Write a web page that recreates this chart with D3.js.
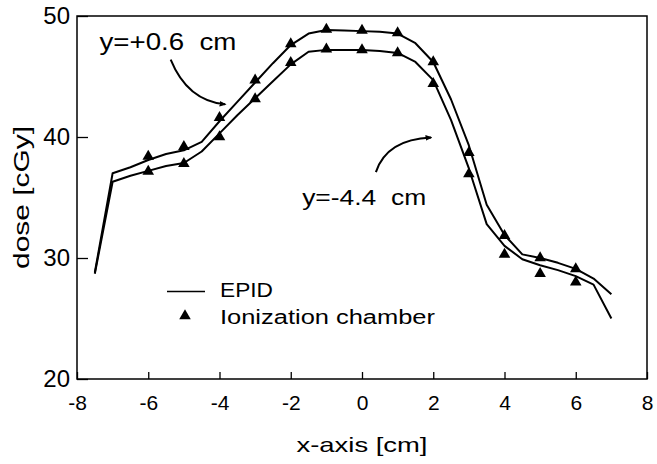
<!DOCTYPE html>
<html>
<head>
<meta charset="utf-8">
<script src="https://cdn.jsdelivr.net/npm/d3@7"></script>
<style>
  body { margin: 0; background: #fff; }
  svg { display: block; font-family: "Liberation Sans", Arial, sans-serif; }
</style>
</head>
<body>
<svg id="chart" width="657" height="464"></svg>
<script>
// EPID profiles, sampled every 0.5 cm
const epidX = [-7.5, -7, -6.5, -6, -5.5, -5, -4.5, -4, -3.5, -3, -2.5, -2, -1.5, -1, -0.5,
  0, 0.5, 1, 1.5, 2, 2.5, 3, 3.5, 4, 4.5, 5, 5.5, 6, 6.5, 7];
const epidUpper = [28.8, 37.0, 37.5, 38.1, 38.6, 38.9, 39.6, 41.3, 42.9, 44.5, 46.1, 47.6, 48.55, 48.85, 48.8,
  48.75, 48.7, 48.55, 47.75, 46.2, 43.1, 39.3, 34.4, 31.9, 30.3, 30.0, 29.6, 29.1, 28.3, 27.0];
const epidLower = [28.7, 36.3, 36.8, 37.2, 37.6, 37.85, 38.8, 40.3, 41.8, 43.2, 44.6, 46.0, 47.05, 47.2, 47.2,
  47.2, 47.1, 46.95, 46.2, 44.7, 41.4, 37.4, 32.8, 31.0, 29.9, 29.4, 29.0, 28.5, 27.8, 25.0];

// ionization chamber measurements
const chamberX = [-6, -5, -4, -3, -2, -1, 0, 1, 2, 3, 4, 5, 6];
const chamberUpper = [38.4, 39.2, 41.6, 44.7, 47.7, 48.9, 48.8, 48.6, 46.2, 38.7, 31.85, 30.0, 29.1];
const chamberLower = [37.15, 37.8, 40.0, 43.15, 46.15, 47.25, 47.2, 46.95, 44.4, 36.95, 30.3, 28.7, 28.0];

const xTicks = [-8, -6, -4, -2, 0, 2, 4, 6, 8];
const yTicks = [20, 30, 40, 50];

const svg = d3.select("#chart");
const plotLeft = 77, plotRight = 647, plotTop = 16, plotBottom = 379;

const x = d3.scaleLinear().domain([-8, 8]).range([plotLeft, plotRight]);
const y = d3.scaleLinear().domain([20, 50]).range([plotBottom, plotTop]);

// arrow marker
svg.append("defs").append("marker")
  .attr("id", "arrow")
  .attr("viewBox", "0 0 10 10")
  .attr("refX", 8).attr("refY", 5)
  .attr("markerWidth", 7).attr("markerHeight", 7)
  .attr("markerUnits", "userSpaceOnUse")
  .attr("orient", "auto")
  .append("path")
  .attr("d", "M0,1 L10,5 L0,9 Z")
  .attr("fill", "#000");

// axes (plain hyphen for negatives, as in the original)
const fmt = function (d) { return String(d); };

const xAxis = svg.append("g")
  .attr("transform", `translate(0,${plotBottom})`)
  .call(d3.axisBottom(x).tickValues(xTicks).tickSize(-7).tickPadding(16).tickFormat(fmt));

const yAxis = svg.append("g")
  .attr("transform", `translate(${plotLeft},0)`)
  .call(d3.axisLeft(y).tickValues(yTicks).tickSize(-11).tickPadding(7).tickFormat(fmt));

[xAxis, yAxis].forEach(function (g) {
  g.select(".domain").remove();
  g.selectAll("line").attr("stroke", "#000").attr("stroke-width", 1.3);
  g.selectAll("text")
    .attr("fill", "#000")
    .style("font-family", "'Liberation Sans', Arial, sans-serif");
});
xAxis.selectAll("text").style("font-size", "21px");
yAxis.selectAll("text").style("font-size", "24px");

// frame
svg.append("rect")
  .attr("x", plotLeft).attr("y", plotTop)
  .attr("width", plotRight - plotLeft).attr("height", plotBottom - plotTop)
  .attr("fill", "none").attr("stroke", "#000").attr("stroke-width", 1.5);

// EPID lines
const line = d3.line()
  .x(function (d) { return x(d[0]); })
  .y(function (d) { return y(d[1]); });

[epidUpper, epidLower].forEach(function (vals) {
  svg.append("path")
    .datum(epidX.map(function (v, i) { return [v, vals[i]]; }))
    .attr("d", line)
    .attr("fill", "none")
    .attr("stroke", "#000")
    .attr("stroke-width", 2)
    .attr("stroke-linejoin", "round");
});

// chamber triangles
const tri = d3.symbol().type(d3.symbolTriangle).size(58);
[chamberUpper, chamberLower].forEach(function (vals) {
  svg.append("g")
    .selectAll("path")
    .data(chamberX.map(function (v, i) { return [v, vals[i]]; }))
    .enter()
    .append("path")
    .attr("d", tri)
    .attr("transform", function (d) { return `translate(${x(d[0])},${y(d[1])})`; })
    .attr("fill", "#000");
});

// annotations
function label(txt, px, py, size, len) {
  svg.append("text")
    .attr("x", px).attr("y", py)
    .attr("font-size", size)
    .attr("textLength", len)
    .attr("lengthAdjust", "spacingAndGlyphs")
    .style("white-space", "pre")
    .attr("fill", "#000")
    .text(txt);
}

label("y=+0.6  cm", x(-7.37), y(47.2), 23, 137);
label("y=-4.4  cm", x(-1.68), y(34.35), 22, 124);

svg.append("path")
  .attr("d", `M${x(-5.37)},${y(46.4)} Q${x(-4.9)},${y(43.0)} ${x(-3.84)},${y(42.7)}`)
  .attr("fill", "none").attr("stroke", "#000").attr("stroke-width", 2)
  .attr("marker-end", "url(#arrow)");

svg.append("path")
  .attr("d", `M${x(0.39)},${y(37.1)} Q${x(0.7)},${y(39.8)} ${x(1.94)},${y(39.95)}`)
  .attr("fill", "none").attr("stroke", "#000").attr("stroke-width", 2)
  .attr("marker-end", "url(#arrow)");

// legend
svg.append("line")
  .attr("x1", 167).attr("x2", 205)
  .attr("y1", 291.5).attr("y2", 291.5)
  .attr("stroke", "#000").attr("stroke-width", 1.5);
svg.append("path")
  .attr("d", tri)
  .attr("transform", "translate(185,316)")
  .attr("fill", "#000");
label("EPID", 220, 297, 20, 53);
label("Ionization chamber", 220, 324, 20, 215);

// axis titles
svg.append("text")
  .attr("x", (plotLeft + plotRight) / 2).attr("y", 452)
  .attr("text-anchor", "middle")
  .attr("font-size", 21)
  .attr("textLength", 131)
  .attr("lengthAdjust", "spacingAndGlyphs")
  .text("x-axis [cm]");

svg.append("text")
  .attr("transform", `translate(29,${(plotTop + plotBottom) / 2}) rotate(-90)`)
  .attr("text-anchor", "middle")
  .attr("font-size", 22)
  .attr("textLength", 143)
  .attr("lengthAdjust", "spacingAndGlyphs")
  .text("dose [cGy]");
</script>
</body>
</html>
